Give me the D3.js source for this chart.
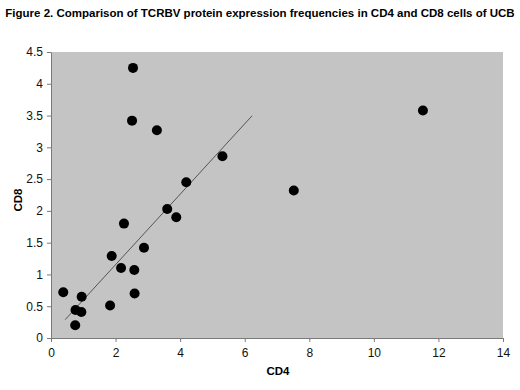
<!DOCTYPE html>
<html>
<head>
<style>
  body { margin: 0; background: #fff; }
  text { font-family: Arial, "Liberation Sans", sans-serif; }
</style>
</head>
<body>
<script src="https://d3js.org/d3.v7.js"></script>
<script>
const cd4 = [2.54, 2.51, 3.28, 5.31, 4.19, 3.60, 3.88, 2.26, 7.52, 11.52, 2.88, 2.58, 2.59, 1.88, 2.17, 0.38, 0.95, 0.76, 0.94, 1.83, 0.75]
const cd8 = [4.25, 3.42, 3.27, 2.86, 2.45, 2.03, 1.90, 1.80, 2.32, 3.58, 1.42, 1.07, 0.70, 1.29, 1.10, 0.72, 0.65, 0.44, 0.41, 0.51, 0.20]
const xTicks = [0, 2, 4, 6, 8, 10, 12, 14]
const yTicks = [0, 0.5, 1, 1.5, 2, 2.5, 3, 3.5, 4, 4.5]
const trendX = [0.44, 6.23]
const trendSlope = 0.554
const trendIntercept = 0.046

const w = 520
const h = 390
const padL = 51, padR = 503, padT = 52, padB = 338

const svg = d3.select('body').append('svg')
    .attr('width', w)
    .attr('height', h)

const xScale = d3.scaleLinear().domain([0, 14]).range([padL, padR])
const yScale = d3.scaleLinear().domain([0, 4.5]).range([padB, padT])

svg.append('rect')
    .attr('x', padL).attr('y', padT)
    .attr('width', padR - padL).attr('height', padB - padT)
    .attr('fill', '#c4c4c4')

const xAxis = svg.append('g')
    .attr('transform', 'translate(0,' + padB + ')')
    .call(d3.axisBottom(xScale).tickValues(xTicks).tickFormat(d3.format('~g'))
        .tickSize(4).tickSizeOuter(0).tickPadding(6))
const yAxis = svg.append('g')
    .attr('transform', 'translate(' + padL + ',0)')
    .call(d3.axisLeft(yScale).tickValues(yTicks).tickFormat(d3.format('~g'))
        .tickSize(4).tickSizeOuter(0).tickPadding(4))

for (const ax of [xAxis, yAxis]) {
    ax.select('.domain').attr('stroke', '#7a7a7a')
    ax.selectAll('.tick line').attr('stroke', '#7a7a7a')
    ax.selectAll('.tick text').attr('fill', '#111').style('font-size', '12px')
        .style('font-family', 'Arial, "Liberation Sans", sans-serif')
}

svg.append('line')
    .attr('x1', xScale(trendX[0]))
    .attr('y1', yScale(trendSlope * trendX[0] + trendIntercept))
    .attr('x2', xScale(trendX[1]))
    .attr('y2', yScale(trendSlope * trendX[1] + trendIntercept))
    .attr('stroke', '#555')
    .attr('stroke-width', 1)

svg.selectAll('circle.pt')
    .data(cd4.map((d, i) => [d, cd8[i]]))
    .enter()
    .append('circle')
    .attr('class', 'pt')
    .attr('cx', d => xScale(d[0]))
    .attr('cy', d => yScale(d[1]))
    .attr('r', 5)
    .attr('fill', '#000')

svg.append('text')
    .attr('x', 260).attr('y', 17)
    .attr('text-anchor', 'middle')
    .style('font-size', '11.5px').style('font-weight', 'bold')
    .text('Figure 2. Comparison of TCRBV protein expression frequencies in CD4 and CD8 cells of UCB')

svg.append('text')
    .attr('x', 278).attr('y', 375)
    .attr('text-anchor', 'middle')
    .style('font-size', '11.5px').style('font-weight', 'bold')
    .text('CD4')

svg.append('text')
    .attr('transform', 'translate(22,200) rotate(-90)')
    .attr('text-anchor', 'middle')
    .style('font-size', '11.5px').style('font-weight', 'bold')
    .text('CD8')
</script>
</body>
</html>
